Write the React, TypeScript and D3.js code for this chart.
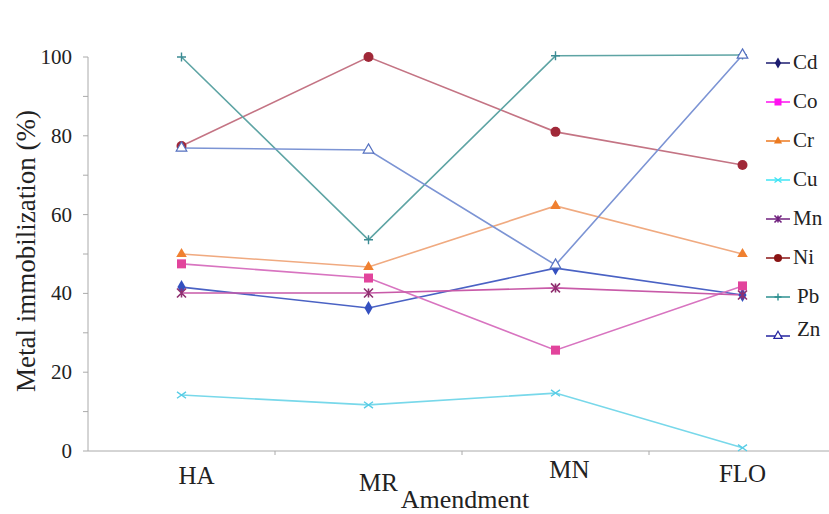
import React from "react";
import * as d3 from "d3";

const categories = ["HA", "MR", "MN", "FLO"];
const metals = ["Cd", "Co", "Cr", "Cu", "Mn", "Ni", "Pb", "Zn"];

const cd = [41.6, 36.3, 46.4, 39.6];
const co = [47.5, 43.9, 25.6, 41.9];
const cr = [50, 46.7, 62.2, 50];
const cu = [14.2, 11.7, 14.7, 0.8];
const mn = [40.1, 40.1, 41.4, 39.6];
const ni = [77.4, 100, 81, 72.6];
const pb = [100, 53.6, 100.3, 100.5];
const zn = [76.9, 76.4, 47.2, 100.5];

const yTicks = [0, 20, 40, 60, 80, 100];

// line colour, marker colour, legend colour, marker kind
const styles: Record<string, { line: string; mark: string; legend: string; kind: string }> = {
  Cd: { line: "#4a62c4", mark: "#3450c0", legend: "#1c1c70", kind: "diamond" },
  Co: { line: "#d874c0", mark: "#e2449c", legend: "#ff10f0", kind: "square" },
  Cr: { line: "#f0aa80", mark: "#f08030", legend: "#ec7a20", kind: "triangle" },
  Cu: { line: "#78d8ea", mark: "#58cde6", legend: "#40e4f4", kind: "x" },
  Mn: { line: "#c85aa8", mark: "#903070", legend: "#70207e", kind: "star" },
  Ni: { line: "#c47484", mark: "#a02838", legend: "#8a1414", kind: "circle" },
  Pb: { line: "#5ea4a4", mark: "#3c8c94", legend: "#2e9090", kind: "plus" },
  Zn: { line: "#7c94d4", mark: "#5470c0", legend: "#2424a0", kind: "tri-open" },
};

const seriesData: Record<string, number[]> = { Cd: cd, Co: co, Cr: cr, Cu: cu, Mn: mn, Ni: ni, Pb: pb, Zn: zn };

// category labels sit a little off their points in the original
const labelShift: Record<string, [number, number]> = { HA: [15, 484], MR: [10, 491], MN: [14, 478], FLO: [0, 482] };

const x = d3.scaleBand().domain(categories).range([88, 836]).paddingInner(0).paddingOuter(0);
const y = d3.scaleLinear().domain([0, 100]).range([451, 57]);
const cx = (c: string) => (x(c) as number) + x.bandwidth() / 2;
const line = d3.line<number>().x((_, i) => cx(categories[i])).y((d) => y(d));

const Marker = ({ kind, x, y, color, s }: { kind: string; x: number; y: number; color: string; s: number }) => {
  const h = s / 2;
  if (kind === "diamond")
    return <path d={d3.symbol(d3.symbolDiamond, s * s * 0.7)() as string} transform={`translate(${x},${y})`} fill={color} />;
  if (kind === "square") return <rect x={x - h} y={y - h} width={s} height={s} fill={color} />;
  if (kind === "triangle")
    return <path d={d3.symbol(d3.symbolTriangle, s * s * 0.6)() as string} transform={`translate(${x},${y})`} fill={color} />;
  if (kind === "tri-open")
    return (
      <path d={d3.symbol(d3.symbolTriangle, s * s * 0.6)() as string} transform={`translate(${x},${y})`} fill="#fff" stroke={color} strokeWidth={1.2} />
    );
  if (kind === "circle") return <circle cx={x} cy={y} r={h + 0.5} fill={color} />;
  if (kind === "x")
    return (
      <path d={`M${x - h},${y - h * 0.7}L${x + h},${y + h * 0.7}M${x - h},${y + h * 0.7}L${x + h},${y - h * 0.7}`} stroke={color} strokeWidth={1.4} />
    );
  if (kind === "star")
    return (
      <path d={`M${x - h},${y - h}L${x + h},${y + h}M${x - h},${y + h}L${x + h},${y - h}M${x},${y - h}L${x},${y + h}`} stroke={color} strokeWidth={1.6} />
    );
  return <path d={`M${x - h},${y}L${x + h},${y}M${x},${y - h}L${x},${y + h}`} stroke={color} strokeWidth={1.4} />;
};

const App = () => {
  const ff = "Liberation Serif";
  const serif = { fontFamily: ff };
  return (
    <svg width={829} height={514} fontFamily={ff} style={{ position: "absolute", left: 0, top: 0, background: "#fff" }}>
      {/* y axis */}
      <line x1={88} x2={88} y1={y(100)} y2={y(0)} stroke="#aaa" />
      {d3.range(0, 101, 10).map((t) => (
        <line key={t} x1={83} x2={88} y1={y(t)} y2={y(t)} stroke="#aaa" />
      ))}
      {yTicks.map((t) => (
        <text key={t} x={72} y={y(t) + 7} textAnchor="end" fontSize={21} fill="#222" fontFamily={ff} style={serif}>
          {String(t)}
        </text>
      ))}
      <text transform={`translate(35,251) rotate(-90)`} textAnchor="middle" fontSize={27} fill="#222" fontFamily={ff} style={serif}>
        Metal immobilization (%)
      </text>

      {/* x axis */}
      <line x1={88} x2={829} y1={y(0)} y2={y(0)} stroke="#aaa" />
      {categories.slice(1).map((c) => (
        <line key={c} x1={x(c)} x2={x(c)} y1={y(0)} y2={y(0) + 4} stroke="#aaa" />
      ))}
      {categories.map((c) => (
        <text key={c} x={cx(c) + labelShift[c][0]} y={labelShift[c][1]} textAnchor="middle" fontSize={25} fill="#222" fontFamily={ff} style={serif}>
          {c}
        </text>
      ))}
      <text x={465} y={508} textAnchor="middle" fontSize={26} fill="#222" fontFamily={ff} style={serif}>
        Amendment
      </text>

      {/* series */}
      {metals.map((m) => (
        <path key={m} d={line(seriesData[m]) as string} fill="none" stroke={styles[m].line} strokeWidth={1.6} />
      ))}
      {metals.map((m) => (
        <g key={m}>
          {seriesData[m].map((v, i) => (
            <Marker key={i} kind={styles[m].kind} x={cx(categories[i])} y={y(v)} color={styles[m].mark} s={9} />
          ))}
        </g>
      ))}

      {/* legend */}
      {metals.map((m, i) => {
        const ly = 63 + i * 39;
        return (
          <g key={m}>
            <line x1={766} x2={790} y1={ly} y2={ly} stroke={styles[m].legend} strokeWidth={1.5} />
            <Marker kind={styles[m].kind} x={778} y={ly} color={styles[m].legend} s={7} />
            <text x={m === "Pb" || m === "Zn" ? 797 : 793} y={ly + (m === "Zn" ? 0 : 6)} fontSize={21} fill="#222" fontFamily={ff} style={serif}>
              {m}
            </text>
          </g>
        );
      })}
    </svg>
  );
};

export default App;
